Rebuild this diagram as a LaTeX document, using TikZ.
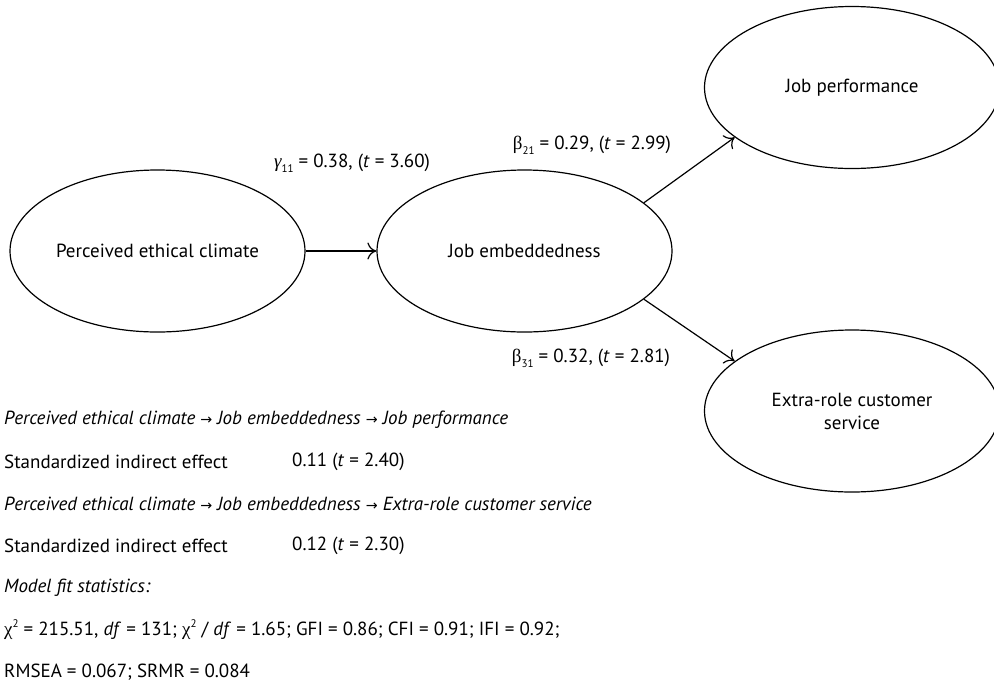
\documentclass[tikz,border=0pt]{standalone}
\usepackage{fontspec}
\setmainfont{PT Sans}
\newfontfamily\grk{Liberation Serif}
\newfontfamily\sym[Scale=0.75]{DejaVu Sans}
\usetikzlibrary{shapes.geometric,arrows.meta}

\tikzset{
  latent/.style={draw,ellipse,line width=1.2pt,minimum width=295pt,minimum height=162pt,inner sep=0pt,align=center},
  effect/.style={line width=1.2pt,-{To[length=9pt,width=17pt]}},
  rowtext/.style={anchor=west,inner sep=0pt}
}
\newcommand{\arr}{ {\sym →} }
\newcommand{\lowsub}[1]{\raisebox{-5pt}{\fontsize{11}{11}\selectfont #1}}
\newcommand{\highsup}[1]{\raisebox{8pt}{\fontsize{11}{11}\selectfont #1}}

\begin{document}
\begin{tikzpicture}[x=1pt,y=-1pt,font=\fontsize{19}{23}\selectfont]
\useasboundingbox (0,0) rectangle (994,681);
\clip (0,0) rectangle (994,681);

% latent variables
\node[latent] (pec) at (157.5,251) {Perceived ethical climate};
\node[latent] (je) at (524.5,251) {Job embeddedness};
\node[latent] (jp) at (852,87.5) {Job performance};
\node[latent] (ercs) at (852,411) {Extra-role customer\\service};

% paths
\draw[effect] (pec.east) -- (je.west);
\draw[effect] (je.22) -- (jp.203);
\draw[effect] (je.-22) -- (ercs.157);

\node (g11) at (352,163) {{\grk\itshape γ}\lowsub{11} = 0.38, (\textit{t} = 3.60)};
\node (b21) at (592,145) {{\grk β}\lowsub{21} = 0.29, (\textit{t} = 2.99)};
\node (b31) at (591,358) {{\grk β}\lowsub{31} = 0.32, (\textit{t} = 2.81)};

% indirect effects and fit
\node[rowtext] (ind1) at (4,420) {\textit{Perceived ethical climate}\arr\textit{Job embeddedness}\arr\textit{Job performance}};
\node[rowtext] (std1) at (4,462) {Standardized indirect effect};
\node[rowtext] (val1) at (292,462) {0.11 (\textit{t} = 2.40)};
\node[rowtext] (ind2) at (4,504) {\textit{Perceived ethical climate}\arr\textit{Job embeddedness}\arr\textit{Extra-role customer service}};
\node[rowtext] (std2) at (4,546) {Standardized indirect effect};
\node[rowtext] (val2) at (292,546) {0.12 (\textit{t} = 2.30)};
\node[rowtext] (fit) at (4,588) {\textit{Model fit statistics:}};
\node[rowtext] (chi) at (4,630) {{\grk χ}\highsup{2} = 215.51, \textit{df} = 131; {\grk χ}\highsup{2} / \textit{df} = 1.65; GFI = 0.86; CFI = 0.91; IFI = 0.92;};
\node[rowtext] (rmsea) at (4,672) {RMSEA = 0.067; SRMR = 0.084};
\end{tikzpicture}
\end{document}
